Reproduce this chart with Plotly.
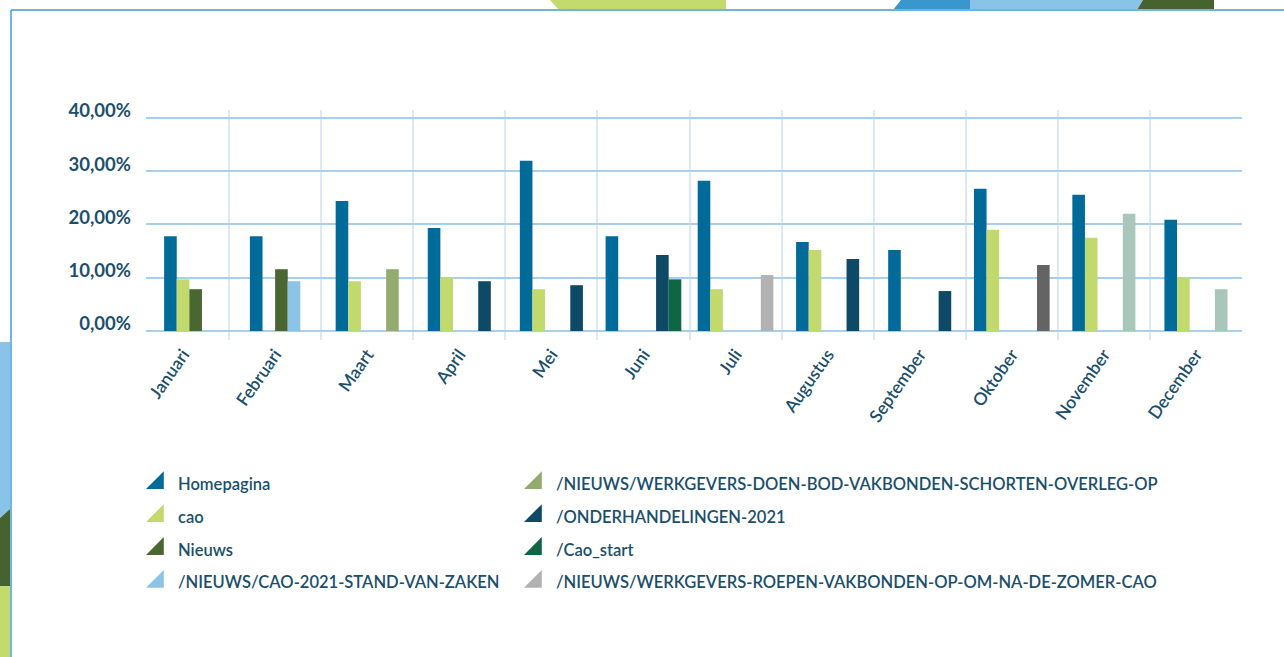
import plotly.graph_objects as go

# ---------------- data ----------------
months = ["Januari", "Februari", "Maart", "April", "Mei", "Juni", "Juli",
          "Augustus", "September", "Oktober", "November", "December"]

# None = page not listed that month, 0.0 = listed at 0,00%
homepagina = [17.8, 17.8, 24.4, 19.35, 31.95, 17.8, 28.2, 16.7, 15.2, 26.7, 25.6, 20.9]
cao = [9.7, 0.0, 9.35, 10.1, 7.85, 0.0, 7.85, 15.2, 0.0, 19.0, 17.5, 10.1]
nieuws = [7.85, 11.6, 0.0, 0.0, 0.0, 0.0, 0.0, 0.0, 0.0, 0.0, 0.0, 0.0]
cao_2021_stand = [None, 9.35, 0.0, 0.0, 0.0, 0.0, 0.0, 0.0, 0.0, 0.0, 0.0, 0.0]
doen_bod = [None, None, 11.6, None, None, None, 0.0, None, None, 0.0, None, None]
onderhandelingen = [None, None, None, 9.35, 8.6, 14.25, None, 13.5, 7.5, None, None, None]
cao_start = [None, None, None, None, None, 9.7, None, None, None, None, None, None]
roepen = [None, None, None, None, None, None, 10.5, None, None, None, None, None]
extra_oktober = [None, None, None, None, None, None, None, None, None, 12.4, None, None]
extra_nov_dec = [None, None, None, None, None, None, None, None, None, None, 22.0, 7.85]

series_names = ["Homepagina", "cao", "Nieuws", "/NIEUWS/CAO-2021-STAND-VAN-ZAKEN",
                "/NIEUWS/WERKGEVERS-DOEN-BOD-VAKBONDEN-SCHORTEN-OVERLEG-OP",
                "/ONDERHANDELINGEN-2021", "/Cao_start",
                "/NIEUWS/WERKGEVERS-ROEPEN-VAKBONDEN-OP-OM-NA-DE-ZOMER-CAO", "", ""]
series_values = [homepagina, cao, nieuws, cao_2021_stand, doen_bod, onderhandelingen,
                 cao_start, roepen, extra_oktober, extra_nov_dec]
series_colors = ["#006b99", "#c2d96d", "#4a6631", "#8cc3e7", "#93ab6f", "#0e4a66",
                 "#0f6645", "#b2b2b2", "#646464", "#a8c6b9"]
legend_count = 8

# ---------------- layout helpers ----------------
W, H = 1284, 657
PL, PR, PT, PB = 146, 1242, 110, 340   # plot area in px


def px2x(px):
    return (px - PL) / (PR - PL)


def py2y(py):
    return (PB - py) / (PB - PT)


slot = 0.137  # width of one bar slot in category units

# per-month slot layout: bars of the pages listed that month, centred
offsets = [[0.0] * len(months) for _ in series_values]
for m in range(len(months)):
    present = [s for s, vals in enumerate(series_values) if vals[m] is not None]
    n = len(present)
    for k, s in enumerate(present):
        offsets[s][m] = (k - n / 2) * slot

fig = go.Figure()
for s, vals in enumerate(series_values):
    fig.add_trace(go.Bar(
        x=months, y=vals, offset=offsets[s], width=[slot] * len(months),
        marker=dict(color=series_colors[s], line=dict(width=0)),
        name=series_names[s] or " ", showlegend=False, hoverinfo="skip"))

# legend entries (triangle markers), two columns
for s in range(legend_count):
    fig.add_trace(go.Scatter(
        x=[None], y=[None], mode="markers",
        marker=dict(symbol="triangle-se", size=16, color=series_colors[s],
                    line=dict(color=series_colors[s], width=2)),
        name=series_names[s], legendgroup=series_names[s],
        legend="legend" if s < 4 else "legend2"))

txt = "#1b4f6b"
FONT = "Lato"

shapes = []


def poly(points, color):
    path = "M " + " L ".join(f"{px2x(a):.5f},{py2y(b):.5f}" for a, b in points) + " Z"
    shapes.append(dict(type="path", xref="paper", yref="paper", path=path,
                       fillcolor=color, line=dict(width=0), layer="above"))


# top decorations
poly([(550, 0), (726, 0), (726, 10), (559, 10)], "#c3da6d")
poly([(901, 0), (970, 0), (970, 10), (893, 10)], "#3898cd")
poly([(970, 0), (1143, 0), (1137, 10), (970, 10)], "#8ac3e8")
poly([(1143, 0), (1214, 0), (1214, 10), (1137, 10)], "#46632f")
# left decorations
poly([(0, 342), (10, 342), (10, 509), (0, 518)], "#8ac3e8")
poly([(0, 518), (10, 509), (10, 586), (0, 586)], "#46632f")
poly([(0, 586), (10, 586), (10, 657), (0, 657)], "#c3da6d")
# frame lines
shapes.append(dict(type="line", xref="paper", yref="paper",
                   x0=px2x(11), x1=px2x(1284), y0=py2y(10), y1=py2y(10),
                   line=dict(color="#6db5dc", width=2)))
shapes.append(dict(type="line", xref="paper", yref="paper",
                   x0=px2x(11), x1=px2x(11), y0=py2y(10), y1=py2y(657),
                   line=dict(color="#3d9fe0", width=1.5)))

legend_common = dict(xanchor="left", yanchor="top", orientation="v",
                     tracegroupgap=8.4, bgcolor="rgba(0,0,0,0)",
                     font=dict(family=FONT, size=16.55, color=txt, weight=600),
                     itemclick=False, itemdoubleclick=False)

fig.update_layout(
    width=W, height=H, autosize=False,
    margin=dict(l=PL, r=W - PR, t=PT, b=H - PB, pad=0),
    paper_bgcolor="white", plot_bgcolor="white",
    barmode="overlay",
    separators=",.",
    showlegend=True,
    legend=dict(x=px2x(138), y=py2y(466), **legend_common),
    legend2=dict(x=px2x(516), y=py2y(466), **legend_common),
    xaxis=dict(type="category", categoryorder="array", categoryarray=months,
               range=[-0.5 + 9 / 92, 11.5], tickson="boundaries",
               showgrid=True, gridcolor="#dde9f5", gridwidth=2,
               ticks="", tickangle=-55, showline=False, zeroline=False,
               tickfont=dict(family=FONT, size=17.5, color=txt, weight=600)),
    yaxis=dict(range=[-1.69, 41.5], tick0=0, dtick=10, ticksuffix="%",
               tickformat=".2f", showgrid=True, gridcolor="#a8cfed", gridwidth=1.5,
               zeroline=True, zerolinecolor="#a8cfed", zerolinewidth=1.5,
               showline=False, ticks="", ticklabelstandoff=14, ticklabelshift=-7,
               tickfont=dict(family=FONT, size=18.5, color=txt, weight=700)),
    shapes=shapes,
)

fig.write_html("out.html", config={"displayModeBar": False},
               post_script="document.body.style.margin='0';")
